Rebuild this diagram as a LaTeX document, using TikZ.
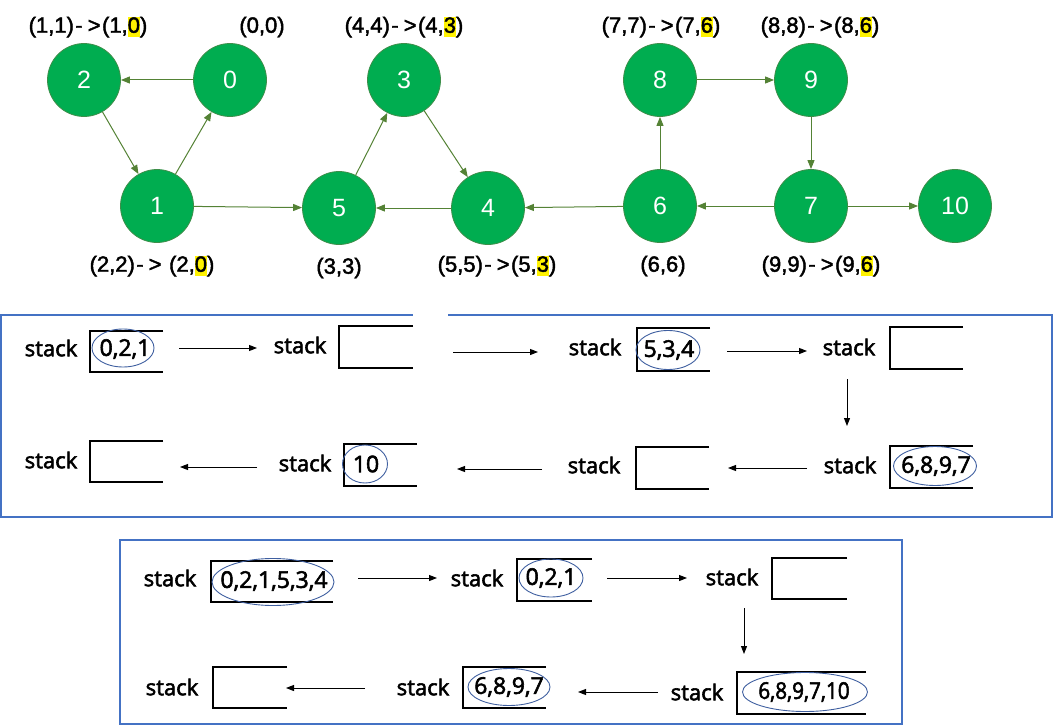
\documentclass[tikz,border=0pt]{standalone}
\usepackage{fontspec}
\setmainfont{Liberation Sans}
\newfontfamily\lblfont{Liberation Sans}[FakeBold=2]
\newfontfamily\stkfont{Open Sans}[FakeBold=2.5]
\usetikzlibrary{arrows.meta,shapes.geometric}
\definecolor{nodegreen}{HTML}{00AD50}
\definecolor{nodeborder}{HTML}{3E8E4A}
\definecolor{edgegreen}{HTML}{548235}
\definecolor{panelblue}{HTML}{4472C4}
\definecolor{ellblue}{HTML}{3F5FA0}
\newcommand\hl[1]{{\setlength{\fboxsep}{0pt}\colorbox{yellow}{\vrule height 16pt depth 4.5pt width 0pt #1}}}
\newcommand\arw{\kern1.5pt-\kern5pt>\kern1.5pt}
\newcommand\stkbox[4]{\draw[boxline] (#3,#2) -- (#1,#2) -- (#1,#4) -- (#3,#4);}
\begin{document}
\begin{tikzpicture}[x=1pt,y=-1pt,
 gnode/.style={circle, fill=nodegreen, draw=nodeborder, line width=0.8pt, minimum size=73pt, inner sep=0pt, text=white, font=\fontsize{25}{30}\selectfont},
 glabel/.style={inner sep=0pt, font=\lblfont\fontsize{22}{26}\selectfont},
 edge/.style={draw=edgegreen, line width=1pt, -{Triangle[length=9pt,width=7pt]}},
 stk/.style={inner sep=0pt, font=\stkfont\fontsize{22}{26}\selectfont},
 stknum/.style={inner sep=0pt, font=\stkfont\fontsize{23}{27}\selectfont},
 ell/.style={draw=ellblue, line width=0.9pt},
 boxline/.style={line width=1.2pt, black},
 parrow/.style={line width=1pt, -{Triangle[length=8pt,width=6pt]}},
 panel/.style={draw=panelblue, line width=1.3pt}]
\useasboundingbox (0,0) rectangle (1053,725);

% graph nodes
\node[gnode] (n2) at (84,80) {2};
\node[gnode] (n0) at (230,80) {0};
\node[gnode] (n1) at (157,206) {1};
\node[gnode] (n5) at (339,208) {5};
\node[gnode] (n3) at (404,80) {3};
\node[gnode] (n4) at (488,208) {4};
\node[gnode] (n8) at (660,80) {8};
\node[gnode] (n9) at (811,80) {9};
\node[gnode] (n6) at (660,206) {6};
\node[gnode] (n7) at (811,206) {7};
\node[gnode] (n10) at (955,206) {10};

% edges
\draw[edge] (n0) -- (n2);
\draw[edge] (n2) -- (n1);
\draw[edge] (n1) -- (n0);
\draw[edge] (n1) -- (n5);
\draw[edge] (n5) -- (n3);
\draw[edge] (n3) -- (n4);
\draw[edge] (n4) -- (n5);
\draw[edge] (n6) -- (n4);
\draw[edge] (n6) -- (n8);
\draw[edge] (n8) -- (n9);
\draw[edge] (n9) -- (n7);
\draw[edge] (n7) -- (n6);
\draw[edge] (n7) -- (n10);

% labels
\node[glabel] (l2) at (88,27) {(1,1)\arw(1,\hl{0})};
\node[glabel] (l0) at (262,27) {(0,0)};
\node[glabel] (l3) at (404,27) {(4,4)\arw(4,\hl{3})};
\node[glabel] (l8) at (661,27) {(7,7)\arw(7,\hl{6})};
\node[glabel] (l9) at (820,27) {(8,8)\arw(8,\hl{6})};
\node[glabel] (l1) at (152,266) {(2,2)\arw\ (2,\hl{0})};
\node[glabel] (l5) at (339,268) {(3,3)};
\node[glabel] (l4) at (497,266) {(5,5)\arw(5,\hl{3})};
\node[glabel] (l6) at (663,266) {(6,6)};
\node[glabel] (l7) at (821,266) {(9,9)\arw(9,\hl{6})};

% panel 1
\draw[panel] (448,315) -- (1052,315) -- (1052,517) -- (1,517) -- (1,315) -- (413,315);
\node[stk] (s1) at (51,348) {stack};
\stkbox{90}{331}{163}{372}
\node[stknum] (t1) at (125,349) {0,2,1};
\draw[ell] (123,348) ellipse [x radius=31pt, y radius=19pt];
\coordinate (a1s) at (179,348); \coordinate (a1e) at (257,348);
\draw[parrow] (a1s) -- (a1e);
\node[stk] (s2) at (300,345) {stack};
\stkbox{339}{326}{413}{368}
\coordinate (a2s) at (453,352); \coordinate (a2e) at (538,352);
\draw[parrow] (a2s) -- (a2e);
\node[stk] (s3) at (595,347) {stack};
\stkbox{637}{328}{710}{371}
\node[stknum] (t3) at (669,350) {5,3,4};
\draw[ell] (668,350) ellipse [x radius=32pt, y radius=19.5pt];
\coordinate (a3s) at (727,351); \coordinate (a3e) at (807,351);
\draw[parrow] (a3s) -- (a3e);
\node[stk] (s4) at (849,347) {stack};
\stkbox{890}{327}{963}{369}
\coordinate (a4s) at (847,379); \coordinate (a4e) at (847,426);
\draw[parrow] (a4s) -- (a4e);
\node[stk] (s5) at (850,465) {stack};
\stkbox{890}{446}{973}{488}
\node[stknum] (t5) at (936,466) {6,8,9,7};
\draw[ell] (935,466) ellipse [x radius=41.5pt, y radius=19.5pt];
\coordinate (a5s) at (807,468); \coordinate (a5e) at (728,468);
\draw[parrow] (a5s) -- (a5e);
\node[stk] (s6) at (594,465) {stack};
\stkbox{636}{447}{709}{489}
\coordinate (a6s) at (542,469); \coordinate (a6e) at (457,469);
\draw[parrow] (a6s) -- (a6e);
\node[stk] (s7) at (305,463) {stack};
\stkbox{344}{444}{417}{486}
\node[stknum] (t7) at (366,464) {10};
\draw[ell] (365,464) ellipse [x radius=22.5pt, y radius=19pt];
\coordinate (a7s) at (257,467); \coordinate (a7e) at (180,467);
\draw[parrow] (a7s) -- (a7e);
\node[stk] (s8) at (51,460) {stack};
\stkbox{90}{441}{163}{482}

% panel 2
\draw[panel] (120,540) rectangle (902,724);
\node[stk] (sa) at (170,578) {stack};
\stkbox{211}{561}{333}{602}
\node[stknum] (ta) at (274,581) {0,2,1,5,3,4};
\draw[ell] (273,582) ellipse [x radius=61pt, y radius=23.5pt];
\coordinate (aas) at (358,578); \coordinate (aae) at (437,578);
\draw[parrow] (aas) -- (aae);
\node[stk] (sb) at (477,578) {stack};
\stkbox{517}{559}{592}{601}
\node[stknum] (tb) at (551,578) {0,2,1};
\draw[ell] (551,578) ellipse [x radius=32pt, y radius=19pt];
\coordinate (abs) at (607,578); \coordinate (abe) at (687,578);
\draw[parrow] (abs) -- (abe);
\node[stk] (sc) at (732,577) {stack};
\stkbox{772}{558}{847}{599}
\coordinate (acs) at (744,608); \coordinate (ace) at (744,654);
\draw[parrow] (acs) -- (ace);
\node[stk] (sd) at (697,692) {stack};
\stkbox{737}{672}{866}{714}
\node[stknum, xscale=0.9] (td) at (804,692) {6,8,9,7,10};
\draw[ell] (805,692) ellipse [x radius=62.5pt, y radius=19.5pt];
\coordinate (ads) at (658,692); \coordinate (ade) at (578,692);
\draw[parrow] (ads) -- (ade);
\node[stk] (se) at (423,687) {stack};
\stkbox{463}{667}{546}{708}
\node[stknum] (te) at (509,687) {6,8,9,7};
\draw[ell] (509,687) ellipse [x radius=41pt, y radius=18.5pt];
\coordinate (aes) at (365,688); \coordinate (aee) at (286,688);
\draw[parrow] (aes) -- (aee);
\node[stk] (sf) at (172,687) {stack};
\stkbox{213}{667}{287}{708}
\end{tikzpicture}
\end{document}
